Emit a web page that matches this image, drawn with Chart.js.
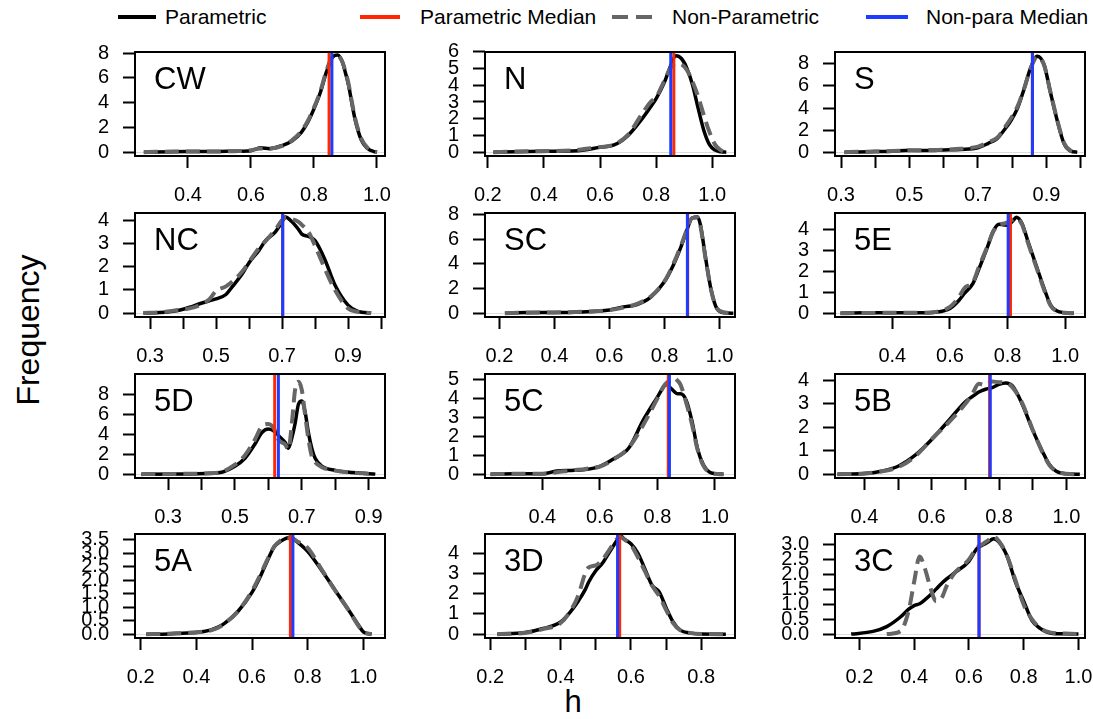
<!DOCTYPE html>
<html>
<head>
<meta charset="utf-8">
<script src="https://cdn.jsdelivr.net/npm/chart.js@4.4.0/dist/chart.umd.min.js"></script>
<style>
body { margin: 0; background: #fff; font-family: "Liberation Sans", Arial, sans-serif; }
#page { position: relative; width: 1093px; height: 719px; overflow: hidden; background: #fff; }
canvas { position: absolute; }
.lt { position: absolute; top: 6px; font-size: 21px; line-height: 22px; white-space: nowrap; color: #000; }
#ytitle { position: absolute; left: 28px; top: 330px; font-size: 32px; transform: translate(-50%, -50%) rotate(-90deg); white-space: nowrap; }
#xtitle { position: absolute; left: 573px; top: 702px; font-size: 31px; transform: translate(-50%, -50%); }
</style>
</head>
<body>
<div id="page">
  <svg width="1093" height="40" style="position:absolute;left:0;top:0">
    <line x1="118" y1="17" x2="156" y2="17" stroke="#000" stroke-width="4"/>
    <line x1="360" y1="17" x2="400" y2="17" stroke="rgb(255,40,0)" stroke-width="4"/>
    <line x1="612" y1="17" x2="654" y2="17" stroke="rgb(102,102,102)" stroke-width="4" stroke-dasharray="16 8"/>
    <line x1="866" y1="17" x2="908" y2="17" stroke="rgb(30,60,255)" stroke-width="4"/>
  </svg>
  <div class="lt" style="left:165px">Parametric</div>
  <div class="lt" style="left:420px">Parametric Median</div>
  <div class="lt" style="left:672px">Non-Parametric</div>
  <div class="lt" style="left:926px">Non-para Median</div>
  <div id="ytitle">Frequency</div>
  <div id="xtitle">h</div>
</div>
<script>
// ---- data ----
const panelNames = ['CW', 'N', 'S', 'NC', 'SC', '5E', '5D', '5C', '5B', '5A', '3D', '3C'];

const cwH   = [0.26,0.3,0.35,0.4,0.45,0.5,0.55,0.6,0.63,0.66,0.7,0.73,0.76,0.78,0.8,0.82,0.84,0.86,0.875,0.89,0.9,0.91,0.92,0.93,0.95,0.97,0.99,1.0];
const cwPar = [0,0.02,0.04,0.05,0.05,0.06,0.08,0.12,0.35,0.28,0.55,0.9,1.6,2.4,3.5,4.8,6.5,7.7,7.85,7.3,6.4,5.4,4.0,2.7,1.0,0.3,0.05,0];
const cwNon = [0,0.03,0.05,0.06,0.05,0.06,0.08,0.15,0.3,0.3,0.5,0.95,1.7,2.5,3.6,4.9,6.6,7.75,7.8,7.3,6.5,5.5,4.1,2.8,1.1,0.35,0.08,0];

const nH   = [0.22,0.3,0.4,0.5,0.55,0.6,0.65,0.7,0.75,0.78,0.8,0.83,0.85,0.87,0.89,0.91,0.93,0.95,0.97,0.99,1.01,1.03,1.05];
const nPar = [0,0.03,0.05,0.07,0.15,0.3,0.43,1.0,2.0,2.7,3.2,4.2,5.1,5.77,5.6,5.0,4.0,2.6,1.3,0.45,0.12,0.02,0];
const nNon = [0,0.04,0.06,0.1,0.2,0.3,0.45,1.05,2.3,3.0,3.3,4.3,5.0,5.3,5.25,4.9,4.2,3.3,2.2,1.2,0.45,0.12,0];

const sH   = [0.31,0.35,0.4,0.45,0.5,0.55,0.6,0.65,0.7,0.73,0.756,0.775,0.795,0.815,0.834,0.854,0.873,0.893,0.912,0.932,0.951,0.971,0.99];
const sPar = [0,0.02,0.05,0.08,0.17,0.15,0.2,0.25,0.4,0.8,1.23,1.94,2.8,3.94,5.66,7.66,8.7,7.94,5.37,2.8,0.8,0.09,0];
const sNon = [0,0.03,0.06,0.1,0.15,0.18,0.22,0.3,0.5,0.9,1.3,2.1,3.0,4.1,5.7,7.6,8.65,7.9,5.4,2.85,0.85,0.12,0];

const ncH   = [0.28,0.33,0.38,0.42,0.45,0.48,0.5,0.53,0.55,0.58,0.6,0.63,0.65,0.68,0.7,0.71,0.73,0.75,0.76,0.78,0.8,0.83,0.86,0.9,0.93,0.97];
const ncPar = [0,0.02,0.1,0.25,0.4,0.53,0.61,0.8,1.15,1.7,2.17,2.7,3.12,3.5,3.93,4.14,3.93,3.6,3.4,3.3,3.12,2.3,1.22,0.34,0.07,0];
const ncNon = [0,0.03,0.12,0.2,0.34,0.6,0.95,1.15,1.36,1.8,2.2,2.8,3.1,3.6,4.0,4.1,4.05,3.93,3.8,3.5,2.9,1.9,1.0,0.2,0.05,0];

const scH   = [0.22,0.3,0.4,0.5,0.6,0.65,0.7,0.75,0.8,0.83,0.86,0.88,0.9,0.92,0.93,0.95,0.97,0.99,1.02,1.05];
const scPar = [0,0.05,0.05,0.1,0.26,0.5,0.7,1.3,2.56,3.8,5.4,6.65,7.72,7.8,7.2,4.35,1.8,0.38,0.03,0];
const scNon = [0,0.04,0.06,0.12,0.25,0.45,0.75,1.35,2.6,3.9,5.5,6.7,7.7,7.75,7.1,4.3,1.8,0.4,0.05,0];

const e5H   = [0.22,0.3,0.4,0.5,0.55,0.6,0.63,0.65,0.68,0.7,0.73,0.75,0.77,0.79,0.8,0.82,0.83,0.85,0.87,0.9,0.93,0.95,0.97,1.0,1.03];
const e5Par = [0,0.02,0.02,0.02,0.05,0.23,0.6,0.95,1.43,2.1,3.17,3.92,4.26,4.23,4.2,4.45,4.6,4.3,3.47,2.26,1.06,0.38,0.12,0.02,0];
const e5Non = [0,0.01,0.02,0.02,0.06,0.3,0.75,1.2,1.5,2.2,3.2,3.9,4.25,4.3,4.35,4.5,4.55,4.25,3.4,2.2,1.0,0.35,0.1,0.02,0];

const d5H   = [0.22,0.35,0.45,0.5,0.53,0.56,0.58,0.6,0.62,0.63,0.65,0.66,0.67,0.68,0.69,0.7,0.71,0.72,0.73,0.74,0.76,0.8,0.85,0.9,0.92];
const d5Par = [0,0.02,0.13,0.8,1.6,3.04,4.16,4.54,4.26,3.9,3.2,2.62,3.6,5.1,7.04,7.36,6.24,4.16,2.6,1.6,0.8,0.38,0.16,0.05,0];
const d5Non = [0,0.03,0.15,0.96,1.9,3.5,4.8,5.05,4.4,3.5,3.0,2.5,5.0,8.5,9.3,8.5,6.0,3.5,1.8,1.2,0.7,0.35,0.15,0.05,0];

const c5H   = [0.22,0.3,0.4,0.45,0.5,0.55,0.6,0.65,0.7,0.75,0.8,0.82,0.83,0.85,0.86,0.87,0.88,0.9,0.92,0.94,0.96,0.98,1.0,1.03];
const c5Par = [0,0.02,0.02,0.17,0.2,0.25,0.42,0.83,1.37,2.83,4.08,4.58,4.75,4.5,4.35,4.25,4.25,3.92,2.83,1.33,0.5,0.13,0.03,0];
const c5Non = [0,0.02,0.03,0.1,0.2,0.28,0.4,0.8,1.4,2.58,4.0,4.6,4.8,5.0,5.08,4.95,4.75,3.8,2.67,1.3,0.45,0.1,0.02,0];

const b5H   = [0.32,0.4,0.45,0.5,0.55,0.6,0.65,0.7,0.72,0.74,0.76,0.78,0.8,0.82,0.84,0.87,0.9,0.93,0.95,0.97,1.0,1.04];
const b5Par = [0,0.03,0.13,0.34,0.8,1.48,2.28,3.09,3.3,3.5,3.62,3.69,3.83,3.89,3.76,2.95,1.88,0.94,0.4,0.13,0.02,0];
const b5Non = [0,0.03,0.12,0.3,0.75,1.5,2.2,3.0,3.4,3.85,3.8,3.95,3.92,3.9,3.7,3.0,1.9,0.9,0.38,0.12,0.02,0];

const a5H   = [0.22,0.3,0.35,0.4,0.45,0.48,0.5,0.55,0.6,0.63,0.65,0.68,0.7,0.72,0.74,0.76,0.8,0.85,0.9,0.95,0.98,1.0,1.03];
const a5Par = [0,0.01,0.04,0.06,0.15,0.27,0.39,0.85,1.55,2.14,2.6,3.24,3.42,3.54,3.59,3.44,3.07,2.37,1.61,0.85,0.38,0.09,0];
const a5Non = [0,0.02,0.05,0.07,0.14,0.25,0.38,0.85,1.6,2.2,2.65,3.25,3.45,3.55,3.55,3.45,3.2,2.4,1.6,0.85,0.35,0.08,0];

const d3H   = [0.22,0.3,0.35,0.4,0.43,0.45,0.47,0.48,0.5,0.52,0.54,0.56,0.57,0.58,0.6,0.62,0.64,0.66,0.68,0.7,0.72,0.74,0.77,0.8,0.87];
const d3Par = [0,0.08,0.28,0.6,1.15,1.63,2.2,2.58,3.13,3.53,4.08,4.63,4.87,4.71,4.47,4.0,3.21,2.42,2.1,1.31,0.6,0.2,0.05,0.01,0];
const d3Non = [0,0.07,0.25,0.55,1.2,1.9,3.0,3.3,3.4,3.7,4.2,4.7,4.8,4.7,4.4,3.8,3.1,2.4,1.9,1.2,0.55,0.2,0.05,0.01,0];

const c3H   = [0.17,0.25,0.3,0.35,0.38,0.4,0.42,0.44,0.46,0.48,0.5,0.52,0.55,0.6,0.63,0.65,0.67,0.69,0.71,0.74,0.77,0.8,0.83,0.86,0.9,0.95,1.0];
const c3Par = [0,0.09,0.25,0.57,0.83,0.95,1.01,1.15,1.31,1.5,1.69,1.85,2.06,2.43,2.86,2.97,3.07,3.18,3.07,2.59,1.74,1.1,0.46,0.19,0.03,0.01,0];
const c3Non = [null,null,0,0.1,0.78,1.74,2.59,2.17,1.53,1.1,1.2,1.63,2.06,2.49,2.9,3.0,3.13,3.25,3.1,2.6,1.8,0.99,0.5,0.2,0.05,0.02,0];

const parMedian = [0.848, 0.863, 0.859, 0.702, 0.884, 0.810, 0.619, 0.838, 0.772, 0.738, 0.568, 0.637];
const nonMedian = [0.857, 0.852, 0.859, 0.702, 0.883, 0.802, 0.630, 0.842, 0.774, 0.747, 0.562, 0.637];

const xTicks = [
  [0.4,0.6,0.8,1.0], [0.2,0.4,0.6,0.8,1.0], [0.3,0.4,0.5,0.6,0.7,0.8,0.9,1.0],
  [0.3,0.4,0.5,0.6,0.7,0.8,0.9,1.0], [0.2,0.4,0.6,0.8,1.0], [0.4,0.6,0.8,1.0],
  [0.3,0.4,0.5,0.6,0.7,0.8,0.9], [0.4,0.6,0.8,1.0], [0.4,0.5,0.6,0.7,0.8,0.9,1.0],
  [0.2,0.4,0.6,0.8,1.0], [0.2,0.3,0.4,0.5,0.6,0.7,0.8], [0.2,0.4,0.6,0.8,1.0]
];
const xTickLabels = [
  ['0.4','0.6','0.8','1.0'], ['0.2','0.4','0.6','0.8','1.0'], ['0.3','','0.5','','0.7','','0.9',''],
  ['0.3','','0.5','','0.7','','0.9',''], ['0.2','0.4','0.6','0.8','1.0'], ['0.4','0.6','0.8','1.0'],
  ['0.3','','0.5','','0.7','','0.9'], ['0.4','0.6','0.8','1.0'], ['0.4','','0.6','','0.8','','1.0'],
  ['0.2','0.4','0.6','0.8','1.0'], ['0.2','','0.4','','0.6','','0.8'], ['0.2','0.4','0.6','0.8','1.0']
];
const xLimits = [
  [0.232,1.0255], [0.190,1.081], [0.2824,1.0126], [0.2544,1.012], [0.1477,1.056], [0.201,1.0687],
  [0.201,0.949], [0.2007,1.07], [0.3127,1.0554], [0.1795,1.078], [0.185,0.896], [0.111,1.024]
];
const yTicks = [
  [0,2,4,6,8], [0,1,2,3,4,5,6], [0,2,4,6,8], [0,1,2,3,4], [0,2,4,6,8], [0,1,2,3,4],
  [0,2,4,6,8], [0,1,2,3,4,5], [0,1,2,3,4], [0,0.5,1,1.5,2,2.5,3,3.5], [0,1,2,3,4], [0,0.5,1,1.5,2,2.5,3]
];
const yTickLabels = [
  ['0','2','4','6','8'], ['0','1','2','3','4','5','6'], ['0','2','4','6','8'], ['0','1','2','3','4'],
  ['0','2','4','6','8'], ['0','1','2','3','4'], ['0','2','4','6','8'], ['0','1','2','3','4','5'],
  ['0','1','2','3','4'], ['0.0','0.5','1.0','1.5','2.0','2.5','3.0','3.5'], ['0','1','2','3','4'],
  ['0.0','0.5','1.0','1.5','2.0','2.5','3.0']
];
const yLimits = [
  [-0.31,8.09], [-0.23,5.99], [-0.35,9.08], [-0.17,4.31], [-0.31,8.12], [-0.18,4.8],
  [-0.39,10.09], [-0.2,5.3], [-0.16,4.27], [-0.14,3.71], [-0.19,4.95], [-0.13,3.34]
];

const panelH   = [cwH, nH, sH, ncH, scH, e5H, d5H, c5H, b5H, a5H, d3H, c3H];
const panelPar = [cwPar, nPar, sPar, ncPar, scPar, e5Par, d5Par, c5Par, b5Par, a5Par, d3Par, c3Par];
const panelNon = [cwNon, nNon, sNon, ncNon, scNon, e5Non, d5Non, c5Non, b5Non, a5Non, d3Non, c3Non];

// ---- layout ----
const colLeft = [135, 485, 835];
const rowTop = [46, 207, 368, 528];
const boxW = 250, boxH = 110;
const padL = 70, padT = 20, padR = 30, padB = 60;
const FONT = '"Liberation Sans", Arial, sans-serif';

const boxPlugin = {
  id: 'boxAndTag',
  afterDatasetsDraw(chart, args, opts) {
    const a = chart.chartArea;
    const ctx = chart.ctx;
    ctx.save();
    ctx.strokeStyle = '#000';
    ctx.lineWidth = 2;
    ctx.strokeRect(a.left, a.top, a.right - a.left, a.bottom - a.top);
    ctx.fillStyle = '#000';
    ctx.font = '31px ' + FONT;
    ctx.textBaseline = 'alphabetic';
    ctx.fillText(opts.text, a.left + 19, a.top + 37);
    ctx.restore();
  }
};

const page = document.getElementById('page');

panelNames.forEach((name, i) => {
  const c = document.createElement('canvas');
  const left = colLeft[i % 3] - padL, top = rowTop[Math.floor(i / 3)] - padT;
  c.width = boxW + padL + padR;
  c.height = boxH + padT + padB;
  c.style.left = left + 'px';
  c.style.top = top + 'px';
  page.appendChild(c);

  const h = panelH[i];
  const yl = yLimits[i];
  const line = (m) => [{x: m, y: yl[0]}, {x: m, y: yl[1]}];

  new Chart(c.getContext('2d'), {
    type: 'line',
    data: {
      datasets: [
        { label: 'Non-para Median', data: line(nonMedian[i]), borderColor: 'rgb(30,60,255)', borderWidth: 3, pointRadius: 0, order: 0 },
        { label: 'Parametric Median', data: line(parMedian[i]), borderColor: 'rgb(255,40,0)', borderWidth: 3, pointRadius: 0, order: 1 },
        { label: 'Non-Parametric', data: h.map((x, k) => ({x: x, y: panelNon[i][k]})), borderColor: 'rgb(102,102,102)', borderWidth: 4, borderDash: [14, 7], pointRadius: 0, cubicInterpolationMode: 'monotone', spanGaps: false, order: 2 },
        { label: 'Parametric', data: h.map((x, k) => ({x: x, y: panelPar[i][k]})), borderColor: '#000', borderWidth: 3.5, pointRadius: 0, cubicInterpolationMode: 'monotone', order: 3 }
      ]
    },
    options: {
      responsive: false,
      animation: false,
      devicePixelRatio: 1,
      layout: { padding: { left: 0, top: padT, right: padR, bottom: 0 } },
      plugins: { legend: { display: false }, tooltip: { enabled: false }, boxAndTag: { text: name } },
      scales: {
        x: {
          type: 'linear', min: xLimits[i][0], max: xLimits[i][1],
          border: { display: false },
          grid: { drawOnChartArea: false, drawTicks: true, tickLength: 12, tickWidth: 2, tickColor: '#000' },
          ticks: { autoSkip: false, maxRotation: 0, padding: 15, color: '#000', font: { family: FONT, size: 20 },
                   callback: (v, k) => xTickLabels[i][k] },
          afterBuildTicks: (s) => { s.ticks = xTicks[i].map(v => ({value: v})); },
          afterFit: (s) => { s.height = padB; }
        },
        y: {
          type: 'linear', min: yl[0], max: yl[1],
          border: { display: false },
          grid: { drawOnChartArea: true, drawTicks: true, tickLength: 12, tickWidth: 2, tickColor: '#000', lineWidth: 1,
                  color: (ctx) => (ctx.tick && ctx.tick.value === 0 ? '#dddddd' : 'rgba(0,0,0,0)') },
          ticks: { autoSkip: false, padding: 14, color: '#000', font: { family: FONT, size: 20 },
                   callback: (v, k) => yTickLabels[i][k] },
          afterBuildTicks: (s) => { s.ticks = yTicks[i].map(v => ({value: v})); },
          afterFit: (s) => { s.width = padL; }
        }
      }
    },
    plugins: [boxPlugin]
  });
});
</script>
</body>
</html>
